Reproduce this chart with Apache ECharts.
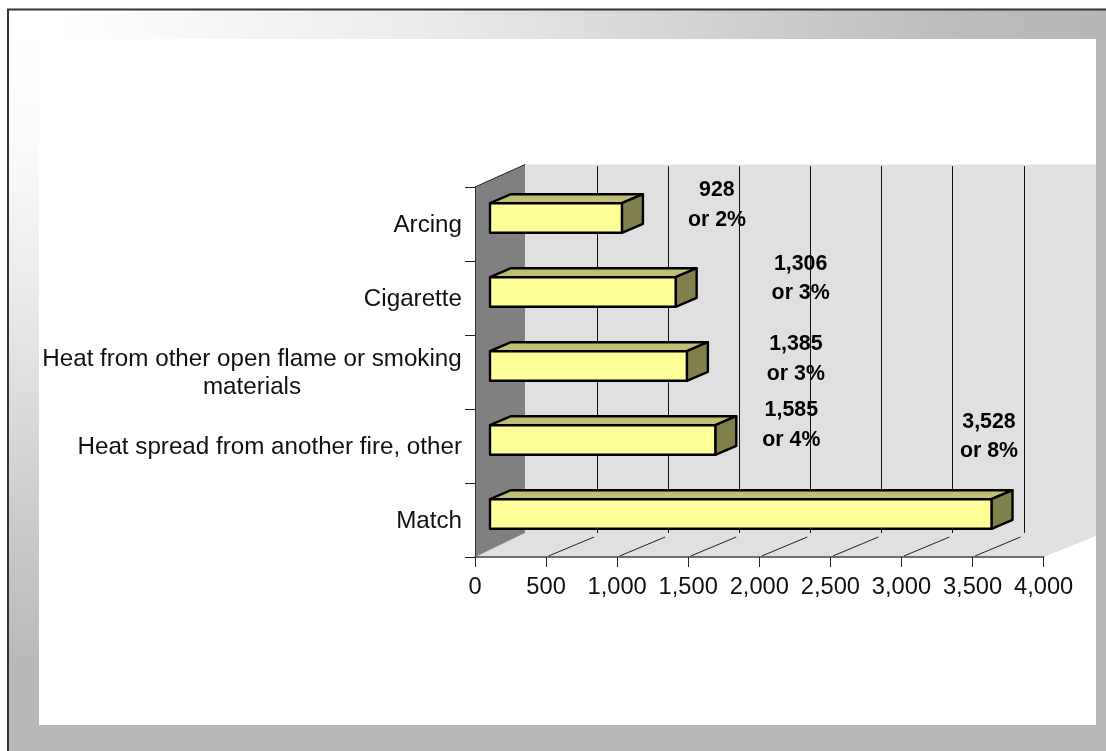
<!DOCTYPE html>
<html>
<head>
<meta charset="utf-8">
<style>html,body{margin:0;padding:0;background:#fff;overflow:hidden}#c{width:1106px;height:751px}</style>
<script src="https://cdn.jsdelivr.net/npm/echarts@6/dist/echarts.min.js"></script>
</head>
<body>
<div id="c"></div>
<script>
// ---- data ----
const categories = ['Arcing', 'Cigarette', 'Heat from other open flame or smoking materials', 'Heat spread from another fire, other', 'Match'];
const values = [928, 1306, 1385, 1585, 3528];
const percents = [2, 3, 3, 4, 8];
const axisTicks = [500, 1000, 1500, 2000, 2500, 3000, 3500];

// ---- layout / style ----
const FONT = '"Liberation Sans", Arial, sans-serif';
const FS = 21.33;
const CAT_FS = 24.2;
const TICK_FS = 23.7;
const wall = { dx: 50, dy: -22.5, dyBottom: -24 };
const gridDx = 51;
const bar = { dx: 15, dy: -6, depthX: 21, depthY: -9, share: 0.4 };
const labelShift = [[110, -19], [140, -19.5], [124, -13], [91, -21], [12.5, -83.5]];

const chart = echarts.init(document.getElementById('c'));

function poly(points, fill, z2, stroke, lw) {
  return { type: 'polygon', z2: z2 || 0, shape: { points },
    style: { fill, stroke: stroke || null, lineWidth: lw || 0, lineJoin: 'round' } };
}
function line(x1, y1, x2, y2, stroke, lw) {
  return { type: 'line', shape: { x1, y1, x2, y2 }, style: { stroke, lineWidth: lw || 1 } };
}

function renderWalls(params, api) {
  const c = params.coordSys;
  const l = c.x, r = c.x + c.width, t = c.y, b = c.y + c.height;
  const backL = l + wall.dx, backT = t + wall.dy, backB = b + wall.dyBottom;
  const edge = r + 52.4;
  return { type: 'group', children: [
    poly([[backL, backT], [edge, backT], [edge, b - 21], [r, b], [l, b], [backL, backB]], '#e0e0e0'),
    poly([[l, t], [backL, backT], [backL, backB], [l, b]], '#808080'),
    line(l, t, backL, backT, '#222', 1)
  ] };
}

function renderGrid(params, api) {
  const c = params.coordSys;
  const x = api.coord([api.value(0), 0])[0];
  const b = c.y + c.height;
  const gx = Math.round(x + gridDx) + 0.5;
  return { type: 'group', children: [
    line(gx, c.y - 21, gx, b - 24, '#111', 1),
    line(x + 2.5, b - 1, x + 48, b - 20, '#222', 1)
  ] };
}

function renderBar(params, api) {
  const p = api.coord([api.value(0), api.value(1)]);
  const origin = api.coord([0, api.value(1)]);
  const h = api.size([0, 1])[1] * bar.share;
  const x0 = origin[0] + bar.dx, x1 = p[0] + bar.dx;
  const y0 = p[1] + bar.dy - h / 2, y1 = p[1] + bar.dy + h / 2;
  const dx = bar.depthX, dy = bar.depthY;
  return { type: 'group', children: [
    poly([[x0, y0], [x0 + dx, y0 + dy], [x1 + dx, y0 + dy], [x1, y0]], '#bfbf73', 0, '#000', 2.4),
    poly([[x1, y0], [x1 + dx, y0 + dy], [x1 + dx, y1 + dy], [x1, y1]], '#80804d', 0, '#000', 2.4),
    poly([[x0, y0], [x1, y0], [x1, y1], [x0, y1]], '#ffff99', 1, '#000', 2.4)
  ] };
}

function renderLabel(params, api) {
  const i = params.dataIndex;
  const p = api.coord([api.value(0), api.value(1)]);
  const text = api.value(0).toLocaleString('en-US') + '\nor ' + percents[i] + '%';
  return { type: 'text', style: {
    text, x: p[0] + labelShift[i][0], y: p[1] + labelShift[i][1],
    align: 'center', verticalAlign: 'middle', fill: '#000',
    font: 'bold ' + FS + 'px ' + FONT, lineHeight: 29.5
  } };
}

const barData = values.map((v, i) => [v, i]);
const richLine = { width: 420, align: 'center', fontFamily: FONT, fontSize: CAT_FS, lineHeight: 29, color: '#111' };

chart.setOption({
  animation: false,
  backgroundColor: '#fff',
  graphic: { elements: [
    { type: 'rect', z: 0, shape: { x: 8, y: 9, width: 1098, height: 742 },
      style: { fill: '#b8b8b8' } },
    { type: 'rect', z: 0, shape: { x: 8, y: 9, width: 1098, height: 30 },
      style: { fill: new echarts.graphic.LinearGradient(0, 0, 1, 0, [
        { offset: 0, color: '#ffffff' }, { offset: 0.05, color: '#ffffff' },
        { offset: 0.378, color: '#ebebeb' }, { offset: 0.603, color: '#d6d6d6' },
        { offset: 0.858, color: '#bcbcbc' }, { offset: 1, color: '#b6b6b6' }]) } },
    { type: 'rect', z: 0, shape: { x: 8, y: 39, width: 31, height: 712 },
      style: { fill: new echarts.graphic.LinearGradient(0, 0, 0, 1, [
        { offset: 0, color: '#ffffff' }, { offset: 0.146, color: '#fbfbfb' },
        { offset: 0.348, color: '#ebebeb' }, { offset: 0.551, color: '#d8d8d8' },
        { offset: 0.753, color: '#c4c4c4' }, { offset: 0.886, color: '#b8b8b8' },
        { offset: 1, color: '#b8b8b8' }]) } },
    { type: 'rect', z: 0, shape: { x: 39, y: 39, width: 1057, height: 686 }, style: { fill: '#fff' } },
    { type: 'line', z: 1, shape: { x1: 7, y1: 9.5, x2: 1106, y2: 9.5 }, style: { stroke: '#333', lineWidth: 2 } },
    { type: 'line', z: 1, shape: { x1: 8, y1: 9, x2: 8, y2: 751 }, style: { stroke: '#333', lineWidth: 2 } }
  ] },
  grid: { left: 475, top: 187, width: 568.6, height: 370, containLabel: false },
  xAxis: {
    type: 'value', min: 0, max: 4000, interval: 500, position: 'bottom', z: 5,
    axisLine: { show: true, onZero: false, lineStyle: { color: '#444', width: 1.5 } },
    axisTick: { show: true, length: 10, lineStyle: { color: '#222' } },
    axisLabel: { show: true, margin: 18, color: '#111', fontFamily: FONT, fontSize: TICK_FS,
      showMinLabel: true, showMaxLabel: true,
      hideOverlap: false, formatter: v => v.toLocaleString('en-US') },
    splitLine: { show: false }
  },
  yAxis: {
    type: 'category', inverse: true, data: categories, z: 5,
    axisLine: { show: true, lineStyle: { color: '#333' } },
    axisTick: { show: true, length: 10, alignWithLabel: false, lineStyle: { color: '#222' } },
    axisLabel: { show: true, interval: 0, margin: 13, color: '#111', fontFamily: FONT, fontSize: CAT_FS,
      lineHeight: 29, padding: [2, 0, 0, 0],
      formatter: v => v.length > 40
        ? '{a|Heat from other open flame or smoking}\n{c|materials}'
        : v,
      rich: { a: Object.assign({}, richLine, { padding: [2, 0, 0, 0] }), c: richLine } }
  },
  series: [
    { type: 'custom', name: 'walls', z: 2, silent: true, clip: false, data: [[0]], encode: { x: 0 }, renderItem: renderWalls },
    { type: 'custom', name: 'grid', z: 3, silent: true, clip: false, data: axisTicks.map(v => [v]), encode: { x: 0 }, renderItem: renderGrid },
    { type: 'custom', name: 'Count', z: 6, clip: false, data: barData, encode: { x: 0, y: 1 }, renderItem: renderBar },
    { type: 'custom', name: 'labels', z: 7, clip: false, data: barData, encode: { x: 0, y: 1 }, renderItem: renderLabel }
  ]
});
</script>
</body>
</html>
